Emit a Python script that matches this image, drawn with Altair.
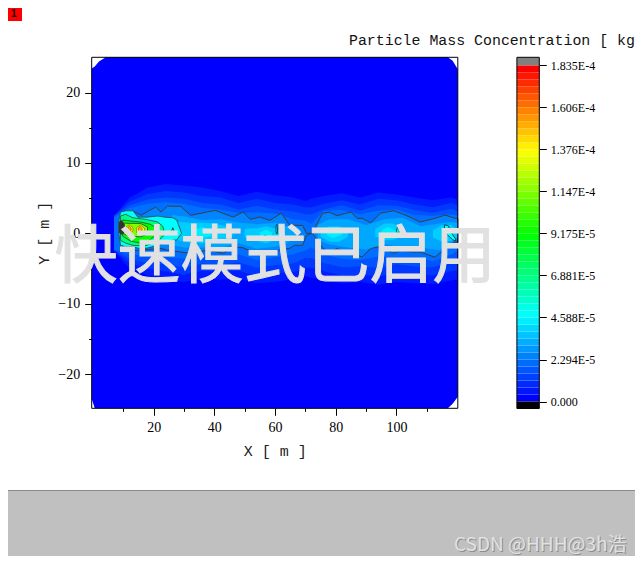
import altair as alt
import pandas as pd

# ---- axis values
x_major = [20, 40, 60, 80, 100]
x_minor = [10, 30, 50, 70, 90, 110]
y_major = [-20, -10, 0, 10, 20]
y_minor = [-15, -5, 5, 15]
x_domain = [-0.4, 120.2]
y_domain = [-24.85, 25.0]

# ---- colour bar (values in units of 1e-5)
bar_ticks = [0, 2.294, 4.588, 6.881, 9.175, 11.47, 13.76, 16.06, 18.35]
bar_labels = ["0.000", "2.294E-5", "4.588E-5", "6.881E-5", "9.175E-5",
              "1.147E-4", "1.376E-4", "1.606E-4", "1.835E-4"]
band_low = [0, 0.382, 0.765, 1.147, 1.529, 1.911, 2.294, 2.676, 3.058, 3.44, 3.823, 4.205,
            4.588, 4.97, 5.352, 5.734, 6.117, 6.499, 6.881, 7.263, 7.646, 8.028, 8.41, 8.792,
            9.175, 9.557, 9.939, 10.321, 10.704, 11.086, 11.468, 11.85, 12.233, 12.615, 12.997, 13.379,
            13.762, 14.144, 14.526, 14.908, 15.291, 15.673, 16.055, 16.437, 16.82, 17.202, 17.584, 17.966]
band_high = band_low[1:] + [18.35]
band_level = [0, .39, .78, 1.17, 1.56, 1.95, 2.34, 2.73, 3.12, 3.51, 3.9, 4.29,
              4.68, 5.08, 5.47, 5.86, 6.25, 6.64, 7.03, 7.42, 7.81, 8.2, 8.59, 8.98,
              9.37, 9.76, 10.15, 10.54, 10.93, 11.32, 11.71, 12.1, 12.49, 12.88, 13.27, 13.66,
              14.05, 14.45, 14.84, 15.23, 15.62, 16.01, 16.4, 16.79, 17.18, 17.57, 17.96, 18.35]
color_stops = [0, 4.588, 9.175, 13.76, 18.35]
color_range = ["#0000ff", "#00ffff", "#00ff00", "#ffff00", "#ff0000"]

# ---- base field, white corners cut off
base_x = [-0.4, 0.6, 2.0, 4.2, 115.5, 116.9, 118.5, 120.2]
base_top = [23.4, 23.7, 24.4, 25, 25, 25, 24.5, 23.3]
base_bot = [-23.5, -24.85, -24.85, -24.85, -24.85, -24.85, -24.2, -23.2]

# ---- plume glow, wavy edges of increasing level
glow_x = [7, 12, 18, 24, 30, 36, 42, 48, 54, 60, 66, 70, 72, 76, 82, 88, 94, 100, 106, 112, 118, 120.2]
glow05_top = [2.5, 5, 6.5, 7, 6.8, 6.5, 6, 5.3, 5.9, 5.4, 5.1, 4.6, 4.9, 5.3, 5.7, 5.1, 5.8, 5.5, 5.1, 4.7, 5.1, 4.8]
glow05_bot = [-2.5, -5, -6, -6.5, -6.9, -6.4, -6.6, -6.4, -7.1, -6.9, -6.5, -6.1, -6.3, -6.6, -7.1, -6.9, -7.3, -6.9, -7.1, -7.2, -6.7, -6.5]
glow10_top = [2.5, 4.5, 5.6, 6, 5.8, 5.3, 5.1, 4.3, 4.9, 4.3, 4.1, 3.7, 3.7, 4.2, 4.7, 4.1, 4.9, 4.7, 4.1, 3.7, 4.3, 4]
glow10_bot = [-2.5, -4.2, -5, -5.4, -5.9, -5.3, -5.5, -5.3, -6.1, -5.7, -5.5, -4.9, -4.9, -5.4, -6, -5.9, -6.1, -5.7, -5.9, -6, -5.4, -5.2]
glow15_top = [2.5, 4, 4.8, 5.1, 4.9, 4.3, 4.1, 3.4, 3.9, 3.4, 3.1, 2.7, 2.7, 3.4, 4, 3.2, 4, 3.9, 3.3, 2.9, 3.5, 3.1]
glow15_bot = [-2.4, -3.6, -4.2, -4.4, -4.9, -4.3, -4.5, -4.1, -4.9, -4.5, -4.3, -3.5, -3.5, -4.2, -4.8, -4.7, -4.9, -4.4, -4.7, -4.8, -4.1, -3.8]
glow20_top = [2.3, 3.6, 4.2, 4.4, 4.2, 3.6, 3.4, 2.9, 3, 2.8, 2, 1.8, 1.4, 3.2, 3.3, 2.7, 3.2, 3.4, 2.6, 2.5, 2.7, 2.5]
glow20_bot = [-2.3, -3, -3.2, -3.4, -3.6, -3.2, -3.4, -3, -3.8, -3.4, -3, -2.4, -2, -3, -3.6, -3.8, -3.3, -3.4, -3.4, -4, -3, -2.4]

# ---- main dark contour
cont_x = [8.8, 10, 13.6, 15.8, 18, 20.7, 22.4, 24.6, 28.9, 32.2, 35, 37.6, 40.3, 42.9, 46.2, 49.5, 51.8, 55, 58.3, 60,
          62.1, 64.8, 66.4, 69.1, 70.3, 72.3, 75.6, 77.9, 80.5, 82.8, 85, 87, 88.7, 91.5, 94.8, 99.1, 101.7, 105, 107.8,
          112.7, 116, 119.3, 120.2]
cont_top = [1.84, 3.0, 3.1, 2.55, 3.1, 3.73, 3.02, 3.87, 3.83, 2.55, 2.8, 3.02, 3.26, 2.84, 2.31, 3.02, 1.99, 2.31, 1.84, 2.3,
            2.84, 1.13, 1.13, 1.13, 0, 0, 2.84, 3.0, 2.5, 2.8, 3.02, 2.13, 2.13, 1.5, 2.88, 3.2, 2.8, 2.2, 1.6,
            2.13, 2.6, 2.13, 2.1]
cont_bot = [-0.5, -2.41, -2.41, -2.41, -2.3, -2.2, -2.13, -2.4, -2.65, -2.84, -2.6, -2.41, -2.6, -2.84, -1.94, -2.05, -2.5, -3.12, -2.75, -2.55,
            -2.3, -2.13, -1.7, -1.7, -0.28, 0, -2.0, -2.84, -2.13, -2.84, -2.65, -3.1, -3.36, -2.13, -1.9, -2.84, -2.41, -2.65, -2.65,
            -3.4, -2.13, -1.23, -1.2]

# ---- inner light patches along the plume: (level, x, top, bottom)
inner = [
    (3.0, [26, 30, 36, 42, 48, 54, 60, 64, 67],
     [2.6, 2.4, 1.9, 2, 1.5, 1.3, 1.5, 1, 0.5], [-1.7, -2, -2, -2.1, -1.4, -2.2, -1.9, -1.4, -0.5]),
    (3.0, [74, 78, 84, 90, 96, 102, 108, 114, 118, 120.2],
     [1.2, 2, 2, 1.2, 2, 2.2, 1, 1.4, 1.6, 1.5], [-1, -1.6, -2, -2.3, -1.5, -2, -2, -2.4, -1.2, -0.8]),
    (3.7, [28, 32, 36, 40, 44, 46], [1.6, 1.5, 1.5, 1.4, 1.0, .5], [-1, -1.3, -1.4, -1.2, -0.8, -.3]),
    (3.7, [50, 54, 57, 60, 62], [.6, .7, 1, .7, .3], [-.6, -1.1, -1.4, -1, -.3]),
    (3.7, [75, 78, 81, 84], [.5, 1, 1, .4], [-.5, -1.2, -1.2, -.5]),
    (3.7, [93, 96, 99, 102], [.6, 1.4, 1.4, .5], [-.4, -1, -.9, -.4]),
    (3.7, [112, 115, 118, 120.2], [.4, 1.2, 1.2, .4], [-.6, -1.2, -1.1, -.5]),
    (4.3, [33, 36, 39], [.4, .9, .4], [-.3, -.7, -.3]),
    (4.3, [55, 57, 59], [.1, .5, .1], [-.3, -.8, -.3]),
    (4.3, [77, 79, 82], [.2, .6, .2], [-.2, -.7, -.2]),
    (4.3, [95, 97, 100], [.3, .9, .3], [-.2, -.6, -.2]),
]

# ---- source region, stroked contours
source = [
    (4.6, [8.5, 9.1, 10.8, 13.2, 14.8, 17.8, 21.4, 23.7, 26.3, 27.6, 29.2],
     [1.6, 3.0, 3.2, 3.2, 2.3, 2.3, 2.45, 2.3, 2.2, 1.9, 0], [0.2, -1.7, -1.9, -1.9, -2.1, -2.1, -1.7, -1.4, -.95, -.95, 0]),
    (6.9, [9.1, 10.8, 13.2, 17.1, 21.4, 23, 23.7], [2.45, 2.7, 2.2, 2, 1.6, 1, 0], [-1, -1.4, -1.7, -1.8, -1.1, -.5, 0]),
    (9.2, [9.8, 12.4, 15.7, 18.8, 21], [1.9, 1.75, 1.6, 1.3, .75], [-.4, -1.1, -1.4, -.95, -.1]),
    (11.5, [10.1, 12.4, 15.7, 18], [1.45, 1.4, 1.4, .9], [-.1, -.4, -.5, -.1]),
]
# ---- hot core, fine contours
hot = [
    (13.76, [10.9, 12, 13.2], [.9, 1.2, .8], [.3, 0, .3]),
    (13.76, [14.4, 15.6, 17], [.8, 1.2, .7], [.1, -.1, .2]),
    (15.3, [11.5, 12, 12.6], [.85, 1.0, .75], [.45, .3, .45]),
    (15.3, [15, 15.6, 16.2], [.8, 1.0, .65], [.3, .15, .3]),
]

# ---- tiny cyan contours further downstream
spots = [
    (4.6, [25.9, 26.3, 26.7], [.3, .8, .3], [.2, -.1, .2]),
    (4.6, [60.3, 60.6, 60.8], [1, 1.3, .6], [.2, -.1, .2]),
    (4.6, [56.6, 56.9, 57.1], [-.3, -.3, -.4], [-.5, -.6, -.5]),
    (4.6, [100, 100.4, 100.9], [.3, 1.0, .4], [.2, -.1, .1]),
    (4.6, [115.8, 117, 118.5, 119.5], [1.2, 1.1, -.2, -.8], [.2, -.3, -.9, -1.1]),
]

# ---- dense dark contour knot at the left of the source
knot_x = [8.5, 9.3, 10.5]
knot_top = [1.6, 1.9, 1.3]
knot_bot = [.1, -.2, .1]

title_text = "Particle Mass Concentration [ kg"
watermark = "快速模式已启用"
credit = "CSDN @HHH@3h浩"


def rows(blobs):
    out = []
    for i, (lv, xs, ts, bs) in enumerate(blobs):
        for x, t, b in zip(xs, ts, bs):
            out.append({"blob": i, "level": lv, "x": x, "top": t, "bot": b})
    return pd.DataFrame(out)


W, H = 627, 548
X_RANGE = [83.7, 449.8]
Y_RANGE = [400.3, 49.3]
SERIF = "Liberation Serif"
MONO = "Liberation Mono"

xs = alt.Scale(domain=x_domain, range=X_RANGE, nice=False, zero=False)
ys = alt.Scale(domain=y_domain, range=Y_RANGE, nice=False, zero=False)
cs = alt.Scale(domain=color_stops, range=color_range, interpolate="rgb", clamp=True)

x_axis = alt.Axis(values=x_major, orient="bottom", title="X [ m ]", offset=-(H - Y_RANGE[0]), grid=False, domain=False,
                  tickSize=7, tickColor="black", labelFont=SERIF, labelFontSize=14, labelColor="black", labelPadding=5,
                  labelAngle=0, titleFont=MONO, titleFontSize=15, titleFontWeight="normal", titleColor="#222222",
                  titlePadding=9, labelFlush=False)
y_axis = alt.Axis(values=y_major, orient="left", title="Y [ m ]", offset=-X_RANGE[0], grid=False, domain=False,
                  tickSize=7, tickColor="black", labelFont=SERIF, labelFontSize=14, labelColor="black", labelPadding=5,
                  titleFont=MONO, titleFontSize=15, titleFontWeight="normal", titleColor="#222222", titlePadding=6)


def area_layer(df, **mark):
    return alt.Chart(df).mark_area(interpolate="linear", **mark).encode(
        x=alt.X("x:Q", scale=xs, axis=x_axis),
        y=alt.Y("top:Q", scale=ys, axis=y_axis),
        y2=alt.Y2("bot:Q"),
        color=alt.Color("level:Q", scale=cs, legend=None),
        detail="blob:N",
    )


glows = rows([
    (0.5, glow_x, glow05_top, glow05_bot),
    (1.0, glow_x, glow10_top, glow10_bot),
    (1.5, glow_x, glow15_top, glow15_bot),
    (2.0, glow_x, glow20_top, glow20_bot),
])
base = rows([(0, base_x, base_top, base_bot)])
contour = rows([(2.4, cont_x, cont_top, cont_bot)])
frame = pd.DataFrame({"x0": [x_domain[0]], "x1": [x_domain[1]], "y0": [y_domain[0]], "y1": [y_domain[1]]})

main = alt.layer(
    area_layer(base),
    area_layer(glows),
    area_layer(contour, stroke="#403c40", strokeWidth=1),
    area_layer(rows(inner)),
    area_layer(rows(source), stroke="#2a4a3a", strokeWidth=0.8),
    area_layer(rows(hot), stroke="#7a5a10", strokeWidth=0.6),
    area_layer(rows(spots), stroke="#005058", strokeWidth=1),
    alt.Chart(rows([(0, knot_x, knot_top, knot_bot)])).mark_area(color="#333333").encode(
        x=alt.X("x:Q", scale=xs, axis=x_axis), y=alt.Y("top:Q", scale=ys, axis=y_axis), y2="bot:Q", detail="blob:N"),
    alt.Chart(frame).mark_rect(fillOpacity=0, stroke="black", strokeWidth=1).encode(
        x=alt.X("x0:Q", scale=xs, axis=x_axis), x2="x1:Q",
        y=alt.Y("y0:Q", scale=ys, axis=y_axis), y2="y1:Q"),
)

minor_x = alt.Chart(pd.DataFrame({"x": x_minor, "y": [0] * len(x_minor)})).mark_point(opacity=0).encode(
    x=alt.X("x:Q", scale=xs, axis=alt.Axis(values=x_minor, orient="bottom", title=None, labels=False, domain=False, grid=False,
                                            tickSize=3, tickColor="black", offset=-(H - Y_RANGE[0]))),
    y=alt.Y("y:Q", scale=ys, axis=None),
)
minor_y = alt.Chart(pd.DataFrame({"x": [10] * len(y_minor), "y": y_minor})).mark_point(opacity=0).encode(
    x=alt.X("x:Q", scale=xs, axis=None),
    y=alt.Y("y:Q", scale=ys, axis=alt.Axis(values=y_minor, orient="left", title=None, labels=False, domain=False, grid=False,
                                            tickSize=3, tickColor="black", offset=-X_RANGE[0])),
)

# colour bar
bar_xs = alt.Scale(domain=[0, 1], range=[508.9, 531.3], nice=False, zero=False)
bar_ys = alt.Scale(domain=[-0.38, 18.79], range=[400.5, 49.3], nice=False, zero=False)
labels_expr = "[" + ",".join(f"'{s}'" for s in bar_labels) + "][indexof([" + ",".join(str(v) for v in bar_ticks) + "],datum.value)]"
bar_axis = alt.Axis(values=bar_ticks, orient="right", title=None, offset=-(W - 531.3), domain=False, grid=False,
                    tickSize=7, tickColor="black", labelExpr=labels_expr, labelFont=SERIF, labelFontSize=12,
                    labelColor="black", labelPadding=4)
bar_df = pd.DataFrame({"a": [0] * len(band_low), "b": [1] * len(band_low), "lo": band_low, "hi": band_high, "level": band_level})
ends_df = pd.DataFrame({"a": [0, 0], "b": [1, 1], "lo": [18.35, -0.38], "hi": [18.79, 0], "c": ["#808080", "#000000"]})
bar_frame = pd.DataFrame({"a": [0], "b": [1], "lo": [-0.38], "hi": [18.79]})
bar = alt.layer(
    alt.Chart(bar_df).mark_rect().encode(
        x=alt.X("a:Q", scale=bar_xs, axis=None), x2="b:Q",
        y=alt.Y("lo:Q", scale=bar_ys, axis=bar_axis), y2="hi:Q",
        color=alt.Color("level:Q", scale=cs, legend=None)),
    alt.Chart(ends_df).mark_rect().encode(
        x=alt.X("a:Q", scale=bar_xs, axis=None), x2="b:Q",
        y=alt.Y("lo:Q", scale=bar_ys, axis=bar_axis), y2="hi:Q",
        color=alt.Color("c:N", scale=None, legend=None)),
    alt.Chart(bar_frame).mark_rect(fillOpacity=0, stroke="black", strokeWidth=1).encode(
        x=alt.X("a:Q", scale=bar_xs, axis=None), x2="b:Q",
        y=alt.Y("lo:Q", scale=bar_ys, axis=bar_axis), y2="hi:Q"),
).resolve_scale(color="independent")


def box(x0, x1, y0, y1, color):
    return alt.Chart(pd.DataFrame({"k": [0]})).mark_rect(color=color).encode(
        x=alt.value(x0), x2=alt.value(x1), y=alt.value(y0), y2=alt.value(y1))


def label(text, x, y, color, size, font, align="left", weight="normal", **extra):
    return alt.Chart(pd.DataFrame({"k": [0]})).mark_text(
        text=text, color=color, fontSize=size, font=font, align=align, baseline="middle", fontWeight=weight, **extra
    ).encode(x=alt.value(x), y=alt.value(y))


chart = alt.layer(
    box(0, 14, 0, 13, "#ff0000"),
    label("1", 3, 6, "black", 10, "Liberation Sans", weight="bold"),
    box(0, W, 483, H, "#c0c0c0"),
    box(0, W, 482, 483, "#8a8a8a"),
    label(title_text, 341, 32.5, "#111111", 14.9, MONO),
    main, minor_x, minor_y, bar,
    label(watermark, 267, 250, "#e1e1e1", 63, "Noto Sans CJK SC", align="center", stroke="#e1e1e1", strokeWidth=1),
    label(credit, 447, 537.5, "#8c8c8c", 19, "Noto Sans CJK SC"),
    label(credit, 446, 536.5, "#e2e2e2", 19, "Noto Sans CJK SC"),
).resolve_scale(x="independent", y="independent", color="independent").properties(
    width=W, height=H, padding=0, autosize=alt.AutoSizeParams(type="none")
).configure_view(stroke=None)

chart.save("out.html", embed_options={"renderer": "svg", "actions": False})
